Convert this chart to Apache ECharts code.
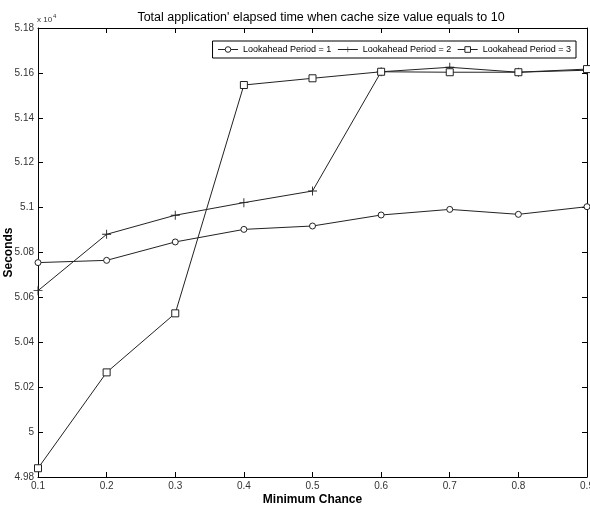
<!DOCTYPE html>
<html><head><meta charset="utf-8">
<script src="https://cdn.jsdelivr.net/npm/echarts@6/dist/echarts.min.js"></script>
<style>html,body{margin:0;padding:0;background:#fff}#c{width:590px;height:510px}</style>
</head><body><div id="c"></div>
<script>
const xValues = [0.1, 0.2, 0.3, 0.4, 0.5, 0.6, 0.7, 0.8, 0.9];
const period1 = [50755, 50765, 50847, 50903, 50918, 50967, 50992, 50970, 51004];
const period2 = [50630, 50881, 50966, 51022, 51074, 51605, 51625, 51603, 51612];
const period3 = [49839, 50266, 50529, 51546, 51576, 51605, 51603, 51603, 51617];
const seriesNames = ['Lookahead Period = 1', 'Lookahead Period = 2', 'Lookahead Period = 3'];

const FONT = "'Liberation Sans Narrow', 'Liberation Sans', Arial, sans-serif";
const plusPath = 'path://M4.5,0H5.5V4.5H10V5.5H5.5V10H4.5V5.5H0V4.5H4.5Z';
const pair = arr => arr.map((v, i) => [xValues[i], v]);

const chart = echarts.init(document.getElementById('c'), null, {renderer: 'canvas'});
const axisLineStyle = {show: true, lineStyle: {color: '#000', width: 1}};
const tickStyle = {show: true, inside: true, length: 5, lineStyle: {color: '#000'}};
const xCommon = {type: 'value', min: 0.1, max: 0.9, interval: 0.1, splitLine: {show: false}, axisLine: axisLineStyle, axisTick: tickStyle};
const yCommon = {type: 'value', min: 49800, max: 51800, interval: 200, splitLine: {show: false}, axisLine: axisLineStyle, axisTick: tickStyle};

chart.setOption({
  animation: false,
  backgroundColor: '#fff',
  title: {
    text: "Total application' elapsed time when cache size value equals to 10",
    left: 316, top: 6, textAlign: 'center',
    textStyle: {fontFamily: FONT, fontSize: 12.5, fontWeight: 'normal', color: '#000'}
  },
  grid: {left: 38, right: 3, top: 28, bottom: 33, containLabel: false, outerBoundsMode: 'none'},
  legend: {
    right: 14, top: 41, orient: 'horizontal',
    data: seriesNames,
    borderColor: '#000', borderWidth: 1, padding: [4, 5], itemGap: 6,
    itemWidth: 20, itemHeight: 7,
    itemStyle: {borderWidth: 1},
    lineStyle: {width: 1},
    textStyle: {fontFamily: FONT, fontSize: 9, color: '#000'},
    backgroundColor: '#fff'
  },
  xAxis: [
    Object.assign({}, xCommon, {
      position: 'bottom',
      name: 'Minimum Chance', nameLocation: 'middle', nameGap: 17, nameMoveOverlap: false,
      nameTextStyle: {fontFamily: FONT, fontSize: 12, fontWeight: 'bold', color: '#000'},
      axisLabel: {fontFamily: FONT, fontSize: 10, color: '#333', margin: 4,
        formatter: v => (+v).toFixed(1)}
    }),
    Object.assign({}, xCommon, {position: 'top', axisLabel: {show: false}})
  ],
  yAxis: [
    Object.assign({}, yCommon, {
      position: 'left',
      name: 'Seconds', nameLocation: 'middle', nameGap: 23, nameMoveOverlap: false,
      nameTextStyle: {fontFamily: FONT, fontSize: 12, fontWeight: 'bold', color: '#000'},
      axisLabel: {fontFamily: FONT, fontSize: 10, color: '#333', margin: 4,
        formatter: v => String(+(v / 10000).toFixed(2))}
    }),
    Object.assign({}, yCommon, {position: 'right', axisLabel: {show: false}})
  ],
  graphic: [{
    type: 'text', left: 37, top: 13,
    style: {
      text: '{a|x 10}{b|4}', fill: '#000',
      rich: {
        a: {fontFamily: FONT, fontSize: 8, fill: '#333', verticalAlign: 'bottom'},
        b: {fontFamily: FONT, fontSize: 6, fill: '#333', verticalAlign: 'top', padding: [0, 0, 5, 1]}
      }
    }
  }],
  series: [
    {name: seriesNames[0], type: 'line', data: pair(period1), symbol: 'circle', symbolSize: 6,
     lineStyle: {color: '#222', width: 1}, itemStyle: {color: '#fff', borderColor: '#222', borderWidth: 1}},
    {name: seriesNames[1], type: 'line', data: pair(period2), symbol: plusPath, symbolSize: 9,
     lineStyle: {color: '#222', width: 1}, itemStyle: {color: '#222', borderWidth: 0}},
    {name: seriesNames[2], type: 'line', data: pair(period3), symbol: 'rect', symbolSize: 7,
     lineStyle: {color: '#222', width: 1}, itemStyle: {color: '#fff', borderColor: '#222', borderWidth: 1}}
  ]
});
</script></body></html>
